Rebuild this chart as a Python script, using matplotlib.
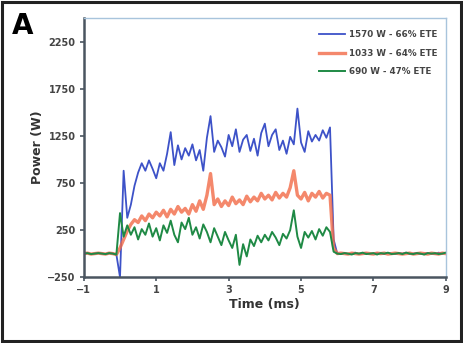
import matplotlib
matplotlib.use("Agg")
import matplotlib.pyplot as plt
import numpy as np
from matplotlib.patches import Rectangle

# sampling grid of the traces (ms)
time_ms = np.round(np.arange(-1.0, 9.0001, 0.1), 1)

LABELS = ["1570 W - 66% ETE", "1033 W - 64% ETE", "690 W - 47% ETE"]
COLORS = ["#3d52c8", "#f26b47", "#1f8a45"]

pre = [0, 5, -5, 0, 5, 0, -5, 5, 0, -10]
post_blue = [0, 5, -5, 0, 10, -5, 0, 5, -5, 0, 5, 0, -5, 5, 0,
             -5, 5, 0, 10, -5, 0, 5, -5, 0, 5, 0, -5, 10, 0, 5]
post_orange = [5, 0, -5, 5, 0, -5, 0, 5, 0, -5, 5, 0, 5, -5, 0,
               5, 0, -5, 0, 5, -5, 0, 5, 0, -5, 5, 0, -5, 5, 0]
post_green = [-5, 5, 0, -10, 5, 0, 10, -5, 0, 5, -10, 5, 0, 10, -5,
              0, 5, -5, 10, 0, -5, 5, 0, -10, 5, 0, 5, -5, 0, 10]

blue_pulse = [-250, 880, 380, 520, 720, 860, 960, 880, 990, 900,
              800, 960, 880, 1060, 1290, 940, 1150, 1000, 1120, 1040,
              1160, 990, 1100, 880, 1230, 1460, 1080, 1200, 1130, 1030,
              1260, 1140, 1320, 1080, 1210, 1260, 1090, 1220, 1040, 1280,
              1380, 1140, 1260, 1320, 1100, 1200, 1060, 1240, 1160, 1540,
              1180, 1080, 1300, 1190, 1260, 1200, 1310, 1230, 1340, 150]
orange_pulse = [60, 150, 240, 310, 360, 330, 400, 350, 420, 380,
                440, 400, 460, 390, 470, 420, 500, 440, 480, 420,
                520, 450, 560, 470, 620, 850, 520, 580, 500, 560,
                510, 600, 530, 570, 520, 610, 550, 600, 560, 640,
                580, 620, 570, 650, 590, 640, 600, 700, 880, 620,
                580, 650, 560, 640, 600, 660, 590, 640, 620, 60]
green_pulse = [430, 180, 300, 200, 280, 150, 260, 200, 320, 180,
               270, 140, 300, 220, 350, 200, 120, 330, 260, 380,
               200, 280, 160, 310, 230, 120, 270, 180, 90, 230,
               140, 60, 200, -120, 100, -30, 150, 80, 190, 120,
               200, 140, 230, 170, 90, 210, 160, 250, 460, 180,
               60, 230, 170, 240, 150, 260, 190, 280, 230, 20]

power_blue = pre + blue_pulse + [0] + post_blue
power_orange = pre + orange_pulse + [0] + post_orange
power_green = pre + green_pulse + [0] + post_green

X_TICKS = [-1, 1, 3, 5, 7, 9]
Y_TICKS = [-250, 250, 750, 1250, 1750, 2250]

fig = plt.figure(figsize=(4.63, 3.43), dpi=100)
ax = fig.add_axes([0.181, 0.192, 0.782, 0.755])

ax.plot(time_ms, power_blue, color=COLORS[0], lw=1.3, label=LABELS[0])
ax.plot(time_ms, power_orange, color=COLORS[1], lw=2.4, alpha=0.8,
        label=LABELS[1])
ax.plot(time_ms, power_green, color=COLORS[2], lw=1.4, label=LABELS[2])

ax.set_xlim(-1, 9)
ax.set_ylim(-250, 2500)
ax.set_xticks(X_TICKS)
ax.set_yticks(Y_TICKS)

for s in ("left", "bottom"):
    ax.spines[s].set_color("#4a5560")
    ax.spines[s].set_linewidth(1.8)
for s in ("top", "right"):
    ax.spines[s].set_color("#a8c4dc")
    ax.spines[s].set_linewidth(1.0)
ax.tick_params(direction="out", length=3, width=1.2, color="#4a5560",
               labelsize=7, labelcolor="#444444", pad=3)
for lab in ax.get_xticklabels() + ax.get_yticklabels():
    lab.set_fontweight("bold")

ax.set_xlabel("Time (ms)", fontsize=9, fontweight="bold", color="#333333",
              labelpad=2)
ax.set_ylabel("Power (W)", fontsize=9, fontweight="bold", color="#333333",
              labelpad=2)

leg = ax.legend(loc="upper right", frameon=False, fontsize=6.3,
                handlelength=3.0, handletextpad=0.5, labelspacing=1.1,
                bbox_to_anchor=(1.0, 0.985))
for t in leg.get_texts():
    t.set_fontweight("bold")
    t.set_color("#444444")

fig.text(0.025, 0.925, "A", fontsize=20, fontweight="bold", va="center")
fig.patches.append(Rectangle((0.005, 0.006), 0.99, 0.988,
                             transform=fig.transFigure, fill=False,
                             edgecolor="#222222", lw=2.2))

fig.savefig("out.png", dpi=100)
